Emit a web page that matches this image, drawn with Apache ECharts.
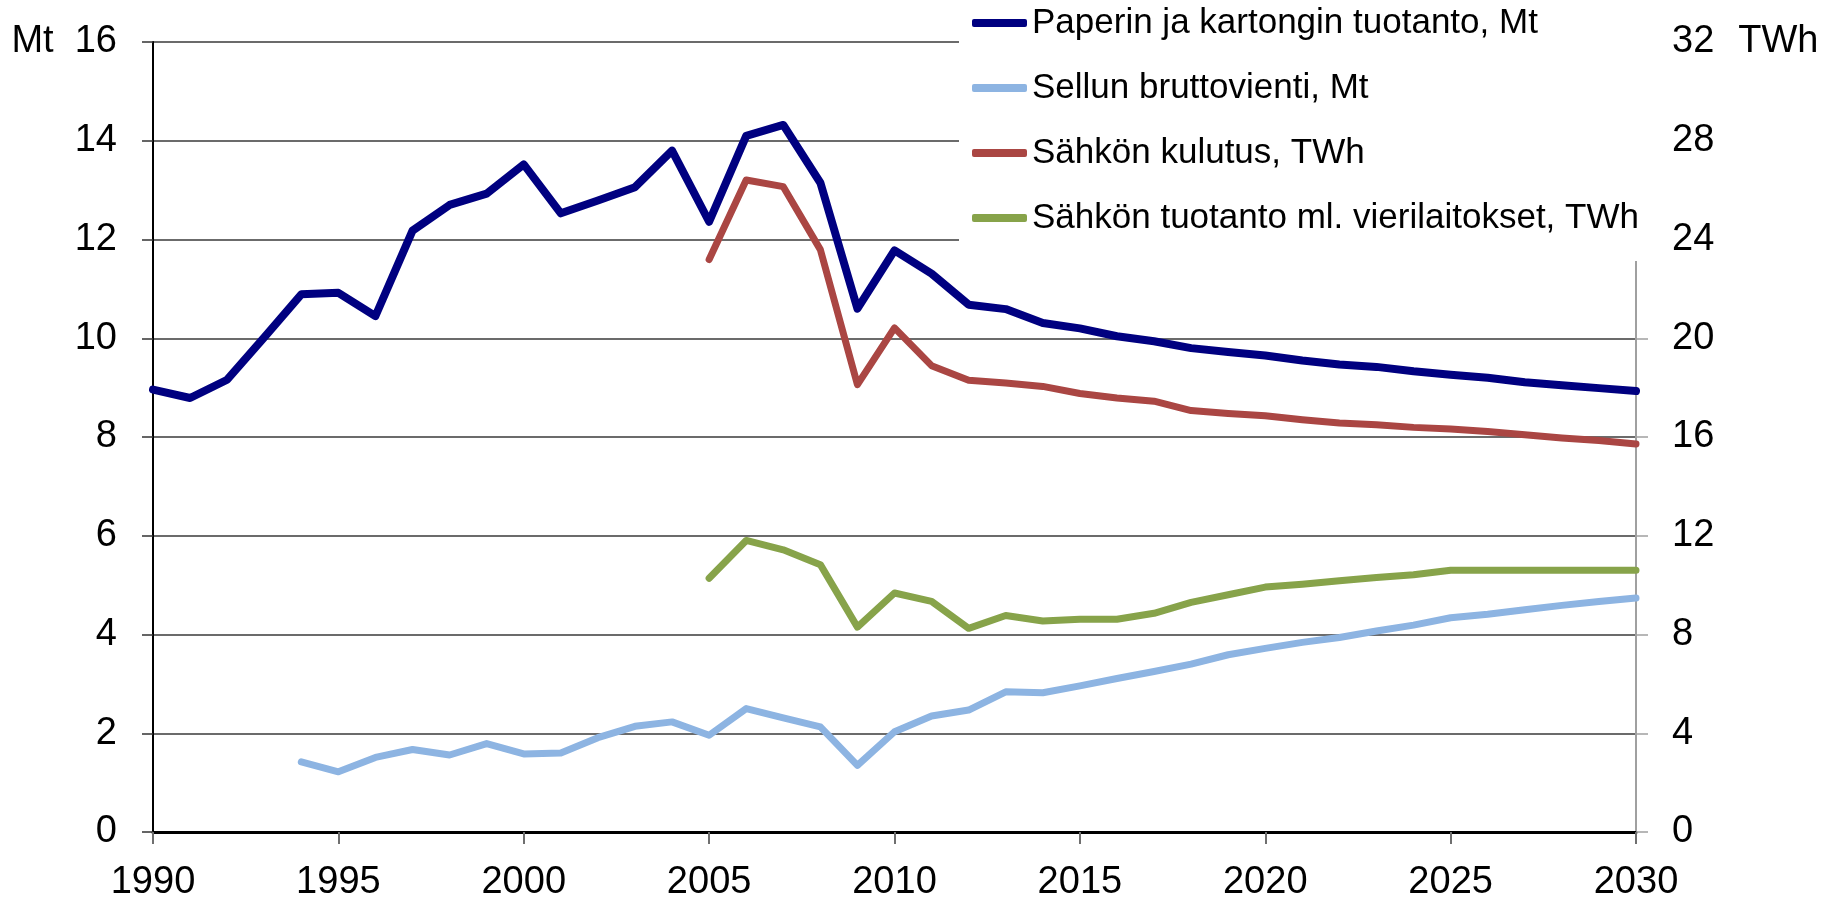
<!DOCTYPE html>
<html>
<head>
<meta charset="utf-8">
<script src="https://cdn.jsdelivr.net/npm/echarts@6/dist/echarts.min.js"></script>
<style>html,body{margin:0;padding:0;background:#fff;}#c{width:1834px;height:902px;}</style>
</head>
<body>
<div id="c"></div>
<script>
var years = [];
for (var y = 1990; y <= 2030; y++) years.push(y);

var seriesNames = [
  'Paperin ja kartongin tuotanto, Mt',
  'Sellun bruttovienti, Mt',
  'Sähkön kulutus, TWh',
  'Sähkön tuotanto ml. vierilaitokset, TWh'
];

// Mt, 1990-2030
var paper = [8.96, 8.79, 9.16, 10.02, 10.89, 10.92, 10.45, 12.18, 12.70, 12.93,
  13.52, 12.53, 12.79, 13.06, 13.80, 12.36, 14.10, 14.32, 13.15, 10.60,
  11.78, 11.31, 10.68, 10.59, 10.31, 10.20, 10.04, 9.94, 9.80, 9.72,
  9.65, 9.55, 9.47, 9.42, 9.33, 9.26, 9.20, 9.11, 9.05, 8.99, 8.93];

// Mt, 1990-2030
var pulp = [null, null, null, null, 1.42, 1.22, 1.51, 1.67, 1.56, 1.79,
  1.58, 1.60, 1.91, 2.14, 2.23, 1.96, 2.50, 2.31, 2.13, 1.35,
  2.03, 2.35, 2.47, 2.84, 2.82, 2.96, 3.11, 3.25, 3.40, 3.59,
  3.72, 3.84, 3.94, 4.07, 4.19, 4.34, 4.41, 4.50, 4.59, 4.67, 4.74];

// TWh, 1990-2030
var elecCons = [null, null, null, null, null, null, null, null, null, null,
  null, null, null, null, null, 23.19, 26.41, 26.14, 23.59, 18.12,
  20.42, 18.89, 18.30, 18.19, 18.05, 17.76, 17.58, 17.45, 17.07, 16.95,
  16.86, 16.70, 16.57, 16.50, 16.39, 16.32, 16.22, 16.09, 15.96, 15.86, 15.72];

// TWh, 1990-2030
var elecProd = [null, null, null, null, null, null, null, null, null, null,
  null, null, null, null, null, 10.28, 11.81, 11.43, 10.83, 8.30,
  9.68, 9.34, 8.25, 8.77, 8.55, 8.62, 8.62, 8.86, 9.30, 9.61,
  9.92, 10.04, 10.18, 10.31, 10.42, 10.60, 10.60, 10.60, 10.60, 10.60, 10.60];

var leftTicks = [0, 2, 4, 6, 8, 10, 12, 14, 16];
var rightTicks = [0, 4, 8, 12, 16, 20, 24, 28, 32];
var xTicks = [1990, 1995, 2000, 2005, 2010, 2015, 2020, 2025, 2030];

var colors = ['#000080', '#8db4e2', '#aa4643', '#87a34a'];

function pairs(arr) {
  var out = [];
  for (var i = 0; i < years.length; i++) {
    if (arr[i] !== null && arr[i] !== undefined) out.push([years[i], arr[i]]);
  }
  return out;
}

var font = 'Liberation Sans, Arial, sans-serif';
var chart = echarts.init(document.getElementById('c'), null, {renderer: 'canvas'});

function mkSeries(name, arr, axis, color, width) {
  return {
    name: name, type: 'line', yAxisIndex: axis, data: pairs(arr),
    showSymbol: false, symbol: 'none', animation: false,
    lineStyle: {color: color, width: width, cap: 'round', join: 'round'},
    itemStyle: {color: color}
  };
}

chart.setOption({
  animation: false,
  backgroundColor: '#ffffff',
  grid: {left: 153, right: 198, top: 42, bottom: 70, containLabel: false},
  legend: {
    orient: 'vertical', left: 959, top: 0,
    padding: [3, 10, 23, 13],
    backgroundColor: '#ffffff',
    itemGap: 25, itemWidth: 55, itemHeight: 8,
    icon: 'roundRect',
    data: seriesNames,
    textStyle: {fontFamily: font, fontSize: 35, color: '#000', lineHeight: 40},
    selectedMode: false
  },
  xAxis: {
    type: 'value', min: xTicks[0], max: xTicks[xTicks.length - 1], interval: 5,
    axisLine: {lineStyle: {color: '#000', width: 3}},
    axisTick: {show: true, length: 12, lineStyle: {color: '#6f6f6f', width: 2}},
    splitLine: {show: false},
    axisLabel: {fontFamily: font, fontSize: 38, color: '#000', margin: 32,
      formatter: function (v) { return xTicks.indexOf(v) >= 0 ? String(v) : ''; }}
  },
  yAxis: [{
    type: 'value', min: 0, max: 16, interval: 2, position: 'left',
    axisLine: {show: true, lineStyle: {color: '#000', width: 2}},
    axisTick: {show: true, length: 11, lineStyle: {color: '#333', width: 1.5}},
    splitLine: {show: true, lineStyle: {color: '#3a3a3a', width: 1.5}},
    axisLabel: {fontFamily: font, fontSize: 38, color: '#000', margin: 36,
      formatter: function (v) { return v === leftTicks[leftTicks.length - 1] ? 'Mt  ' + v : String(v); }}
  }, {
    type: 'value', min: 0, max: 32, interval: 4, position: 'right',
    axisLine: {show: true, lineStyle: {color: '#a0a0a0', width: 2}},
    axisTick: {show: true, length: 12, lineStyle: {color: '#a0a0a0', width: 1.5}},
    splitLine: {show: false},
    axisLabel: {fontFamily: font, fontSize: 38, color: '#000', margin: 36,
      formatter: function (v) { return v === rightTicks[rightTicks.length - 1] ? v + '{t|TWh}' : String(v); },
      rich: {t: {fontFamily: font, fontSize: 38, color: '#000', padding: [0, 0, 0, 24]}}}
  }],
  series: [
    mkSeries(seriesNames[0], paper, 0, colors[0], 8),
    mkSeries(seriesNames[1], pulp, 0, colors[1], 7),
    mkSeries(seriesNames[2], elecCons, 1, colors[2], 7),
    mkSeries(seriesNames[3], elecProd, 1, colors[3], 7)
  ]
});
</script>
</body>
</html>
